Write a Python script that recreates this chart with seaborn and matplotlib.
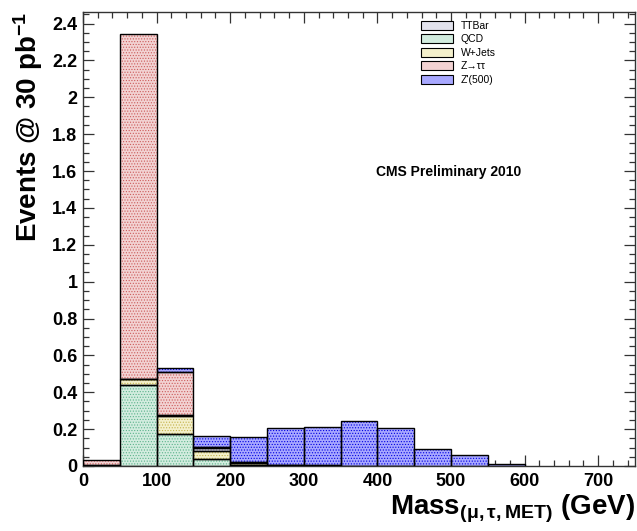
import numpy as np
import pandas as pd
import matplotlib
matplotlib.use("Agg")
import matplotlib.pyplot as plt
import matplotlib.colors as mcolors
from matplotlib.patches import Rectangle, Patch
from matplotlib.ticker import MultipleLocator, FuncFormatter
import seaborn as sns

# ---------------- data ----------------
bin_edges = [0, 50, 100, 150, 200, 250, 300, 350, 400, 450, 500, 550, 600, 650, 700, 750]
processes = ["TTBar", "QCD", "W+Jets", "Z→ττ", "Z'(500)"]
qcd    = [0.005, 0.442, 0.172, 0.038, 0.003, 0.0,   0.0,   0.0,   0.0,   0.0,   0.0,   0.0,   0.0, 0.0, 0.0]
wjets  = [0.0,   0.029, 0.100, 0.045, 0.012, 0.003, 0.002, 0.0,   0.0,   0.0,   0.0,   0.0,   0.0, 0.0, 0.0]
ttbar  = [0.0,   0.002, 0.004, 0.012, 0.008, 0.003, 0.002, 0.002, 0.001, 0.0,   0.0,   0.0,   0.0, 0.0, 0.0]
ztautau= [0.025, 1.872, 0.233, 0.010, 0.0,   0.0,   0.0,   0.0,   0.0,   0.0,   0.0,   0.0,   0.0, 0.0, 0.0]
zprime = [0.0,   0.0,   0.024, 0.058, 0.132, 0.198, 0.206, 0.243, 0.203, 0.092, 0.060, 0.009, 0.0, 0.0, 0.0]

fill_colors = {"TTBar": "#e2e2ec", "QCD": "#d2ecdf", "W+Jets": "#f4f0cc",
               "Z→ττ": "#f2d2d2", "Z'(500)": "#a8a8ff"}
dot_colors = {"TTBar": "#8a8aa4", "QCD": "#5cb48c", "W+Jets": "#c4b44c",
              "Z→ττ": "#cc5c5c", "Z'(500)": "#0000e0"}

# stacking: first hue level ends on top in seaborn's stack
hue_order = ["Z'(500)", "Z→ττ", "TTBar", "W+Jets", "QCD"]

edges = [float(e) for e in bin_edges]
centers = [0.5 * (a + b) for a, b in zip(edges[:-1], edges[1:])]
series = {"TTBar": ttbar, "QCD": qcd, "W+Jets": wjets, "Z→ττ": ztautau, "Z'(500)": zprime}
df = pd.concat([pd.DataFrame({"mass": centers, "events": vals, "process": name})
                for name, vals in series.items()], ignore_index=True)

# ---------------- style ----------------
sns.set_style("ticks")
plt.rcParams["font.family"] = ["Liberation Sans", "DejaVu Sans"]
plt.rcParams["font.weight"] = "bold"
plt.rcParams["text.color"] = "black"
plt.rcParams["axes.labelcolor"] = "black"
plt.rcParams["xtick.color"] = "black"
plt.rcParams["ytick.color"] = "black"
plt.rcParams["mathtext.fontset"] = "custom"
plt.rcParams["mathtext.rm"] = "Liberation Sans:bold"
plt.rcParams["mathtext.bf"] = "Liberation Sans:bold"
plt.rcParams["mathtext.it"] = "Liberation Sans:bold"
plt.rcParams["mathtext.default"] = "bf"
plt.rcParams["hatch.linewidth"] = 0.5

fig = plt.figure(figsize=(6.37, 5.31), dpi=100)
ax = fig.add_axes([83 / 637, 65 / 531, 552 / 637, 454 / 531])

sns.histplot(data=df, x="mass", weights="events", hue="process", hue_order=hue_order,
             bins=edges, multiple="stack", element="bars", palette=fill_colors,
             alpha=1.0, linewidth=0, legend=False, ax=ax)

# map filled patches back to process by colour, add dot texture and outlines
rgb_to_proc = {tuple(np.round(mcolors.to_rgb(c), 3)): p for p, c in fill_colors.items()}
bars = [p for p in ax.patches if isinstance(p, Rectangle)]
for p in bars:
    proc = rgb_to_proc.get(tuple(np.round(p.get_facecolor()[:3], 3)))
    if proc is None or p.get_height() <= 0:
        continue
    ax.add_patch(Rectangle(p.get_xy(), p.get_width(), p.get_height(), facecolor="none",
                           edgecolor=dot_colors[proc], linewidth=0, hatch="......", zorder=2.5))
    ax.add_patch(Rectangle(p.get_xy(), p.get_width(), p.get_height(), facecolor="none",
                           edgecolor="black", linewidth=1.0, zorder=3))

ax.set_xlim(0, 750)
ax.set_ylim(0, 2.4625)

ax.xaxis.set_major_locator(MultipleLocator(100))
ax.xaxis.set_minor_locator(MultipleLocator(20))
ax.yaxis.set_major_locator(MultipleLocator(0.2))
ax.yaxis.set_minor_locator(MultipleLocator(0.05))
ax.yaxis.set_major_formatter(FuncFormatter(lambda v, _: "%g" % round(v, 2)))
ax.xaxis.set_major_formatter(FuncFormatter(lambda v, _: "%g" % v))
ax.tick_params(which="both", direction="in", top=True, right=True, width=0.9,
               color="#333333", labelcolor="black")
ax.tick_params(which="major", length=8, labelsize=13)
ax.tick_params(axis="x", which="major", pad=5)
ax.tick_params(axis="y", which="major", pad=4)
ax.tick_params(which="minor", length=4)
for s in ax.spines.values():
    s.set_linewidth(1.0)
    s.set_color("#333333")
    s.set_visible(True)

ax.set_ylabel(r"Events @ 30 pb$^{-1}$", fontsize=20, fontweight="bold", loc="top", color="black")
ax.yaxis.set_label_coords(-0.068, 1.0)
ax.set_xlabel(r"Mass$_{(\mu,\tau,MET)}$ (GeV)", fontsize=20, fontweight="bold", loc="right",
              color="black")
ax.xaxis.set_label_coords(1.0, -0.058)

ax.text((376 - 83) / 552, (466 - 172) / 454, "CMS Preliminary 2010", transform=ax.transAxes,
        fontsize=10, fontweight="bold", va="center", ha="left", color="black")

handles = [Patch(facecolor=fill_colors[p], edgecolor="black", linewidth=0.8) for p in processes]
ax.legend(handles, processes, loc="upper left", bbox_to_anchor=(0.605, 0.99), frameon=False,
          prop={"size": 7.5, "weight": "normal"}, handlelength=3.1, handleheight=0.95,
          labelspacing=0.33, handletextpad=0.7, borderaxespad=0, labelcolor="black")

fig.savefig("out.png", dpi=100)
